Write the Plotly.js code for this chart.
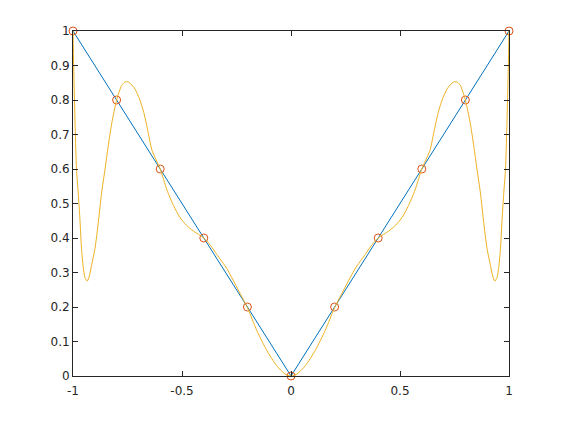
<!DOCTYPE html>
<html>
<head>
<meta charset="utf-8">
<script src="https://cdn.plot.ly/plotly-3.0.1.min.js"></script>
<style>html,body{margin:0;padding:0;background:#fff;}#chart{width:562px;height:422px;}</style>
</head>
<body>
<div id="chart"></div>
<script>
// Nodes (blue line + circle markers)
const nodeX = [-1, -0.8, -0.6, -0.4, -0.2, 0, 0.2, 0.4, 0.6, 0.8, 1];
const nodeY = [1, 0.8, 0.6, 0.4, 0.2, 0, 0.2, 0.4, 0.6, 0.8, 1];

// Interpolating curve (yellow)
const curveX = [-1, -0.997, -0.994, -0.99, -0.984, -0.976, -0.968, -0.961, -0.953, -0.945, -0.935, -0.925, -0.915, -0.899, -0.884, -0.869, -0.853, -0.841, -0.823, -0.8, -0.777, -0.762, -0.75, -0.735, -0.716, -0.696, -0.677, -0.658, -0.638, -0.6, -0.569, -0.539, -0.51, -0.48, -0.448, -0.4, -0.37, -0.34, -0.295, -0.249, -0.2, -0.157, -0.111, -0.066, -0.028, 0,
  0.028, 0.066, 0.111, 0.157, 0.2, 0.249, 0.295, 0.34, 0.37, 0.4, 0.448, 0.48, 0.51, 0.539, 0.569, 0.6, 0.638, 0.658, 0.677, 0.696, 0.716, 0.735, 0.75, 0.762, 0.777, 0.8, 0.823, 0.841, 0.853, 0.869, 0.884, 0.899, 0.915, 0.925, 0.935, 0.945, 0.953, 0.961, 0.968, 0.976, 0.984, 0.99, 0.994, 0.997, 1];
const curveY = [1, 0.9, 0.82, 0.72, 0.6, 0.53, 0.452, 0.37, 0.315, 0.285, 0.275, 0.29, 0.32, 0.37, 0.445, 0.53, 0.6, 0.655, 0.73, 0.8, 0.842, 0.852, 0.853, 0.847, 0.832, 0.805, 0.768, 0.715, 0.655, 0.6, 0.539, 0.494, 0.46, 0.437, 0.42, 0.4, 0.379, 0.352, 0.312, 0.258, 0.198, 0.132, 0.074, 0.03, 0.006, 0,
  0.006, 0.03, 0.074, 0.132, 0.198, 0.258, 0.312, 0.352, 0.379, 0.4, 0.42, 0.437, 0.46, 0.494, 0.539, 0.6, 0.655, 0.715, 0.768, 0.805, 0.832, 0.847, 0.853, 0.852, 0.842, 0.8, 0.73, 0.655, 0.6, 0.53, 0.445, 0.37, 0.32, 0.29, 0.275, 0.285, 0.315, 0.37, 0.452, 0.53, 0.6, 0.72, 0.82, 0.9, 1];

const xTicks = [-1, -0.5, 0, 0.5, 1];
const xTickText = ['-1', '-0.5', '0', '0.5', '1'];
const yTicks = [0, 0.1, 0.2, 0.3, 0.4, 0.5, 0.6, 0.7, 0.8, 0.9, 1];
const yTickText = ['0', '0.1', '0.2', '0.3', '0.4', '0.5', '0.6', '0.7', '0.8', '0.9', '1'];

const axisColor = '#262626';
const traces = [
  {x: nodeX, y: nodeY, type: 'scatter', mode: 'lines',
   line: {color: '#0072BD', width: 1}, hoverinfo: 'skip'},
  {x: nodeX, y: nodeY, type: 'scatter', mode: 'markers', cliponaxis: false,
   marker: {symbol: 'circle-open', size: 8, color: '#D95319', line: {width: 1, color: '#D95319'}}},
  {x: curveX, y: curveY, type: 'scatter', mode: 'lines',
   line: {color: '#EDB120', width: 1, shape: 'spline', smoothing: 0.6}}
];

const axisCommon = {
  showline: true, linecolor: axisColor, linewidth: 1, mirror: 'ticks',
  ticks: 'inside', ticklen: 5, tickcolor: axisColor, tickwidth: 1,
  showgrid: false, zeroline: false,
  tickfont: {family: 'DejaVu Sans, sans-serif', size: 12, color: axisColor}
};

const layout = {
  width: 562, height: 422,
  margin: {l: 73, r: 53, t: 31, b: 46},
  paper_bgcolor: '#ffffff', plot_bgcolor: '#ffffff',
  showlegend: false,
  xaxis: Object.assign({}, axisCommon, {range: [-1, 1], tickvals: xTicks, ticktext: xTickText, ticklabelstandoff: 4}),
  yaxis: Object.assign({}, axisCommon, {range: [0, 1], tickvals: yTicks, ticktext: yTickText, ticklabelstandoff: 0})
};

Plotly.newPlot('chart', traces, layout, {displayModeBar: false, staticPlot: true});
</script>
</body>
</html>
